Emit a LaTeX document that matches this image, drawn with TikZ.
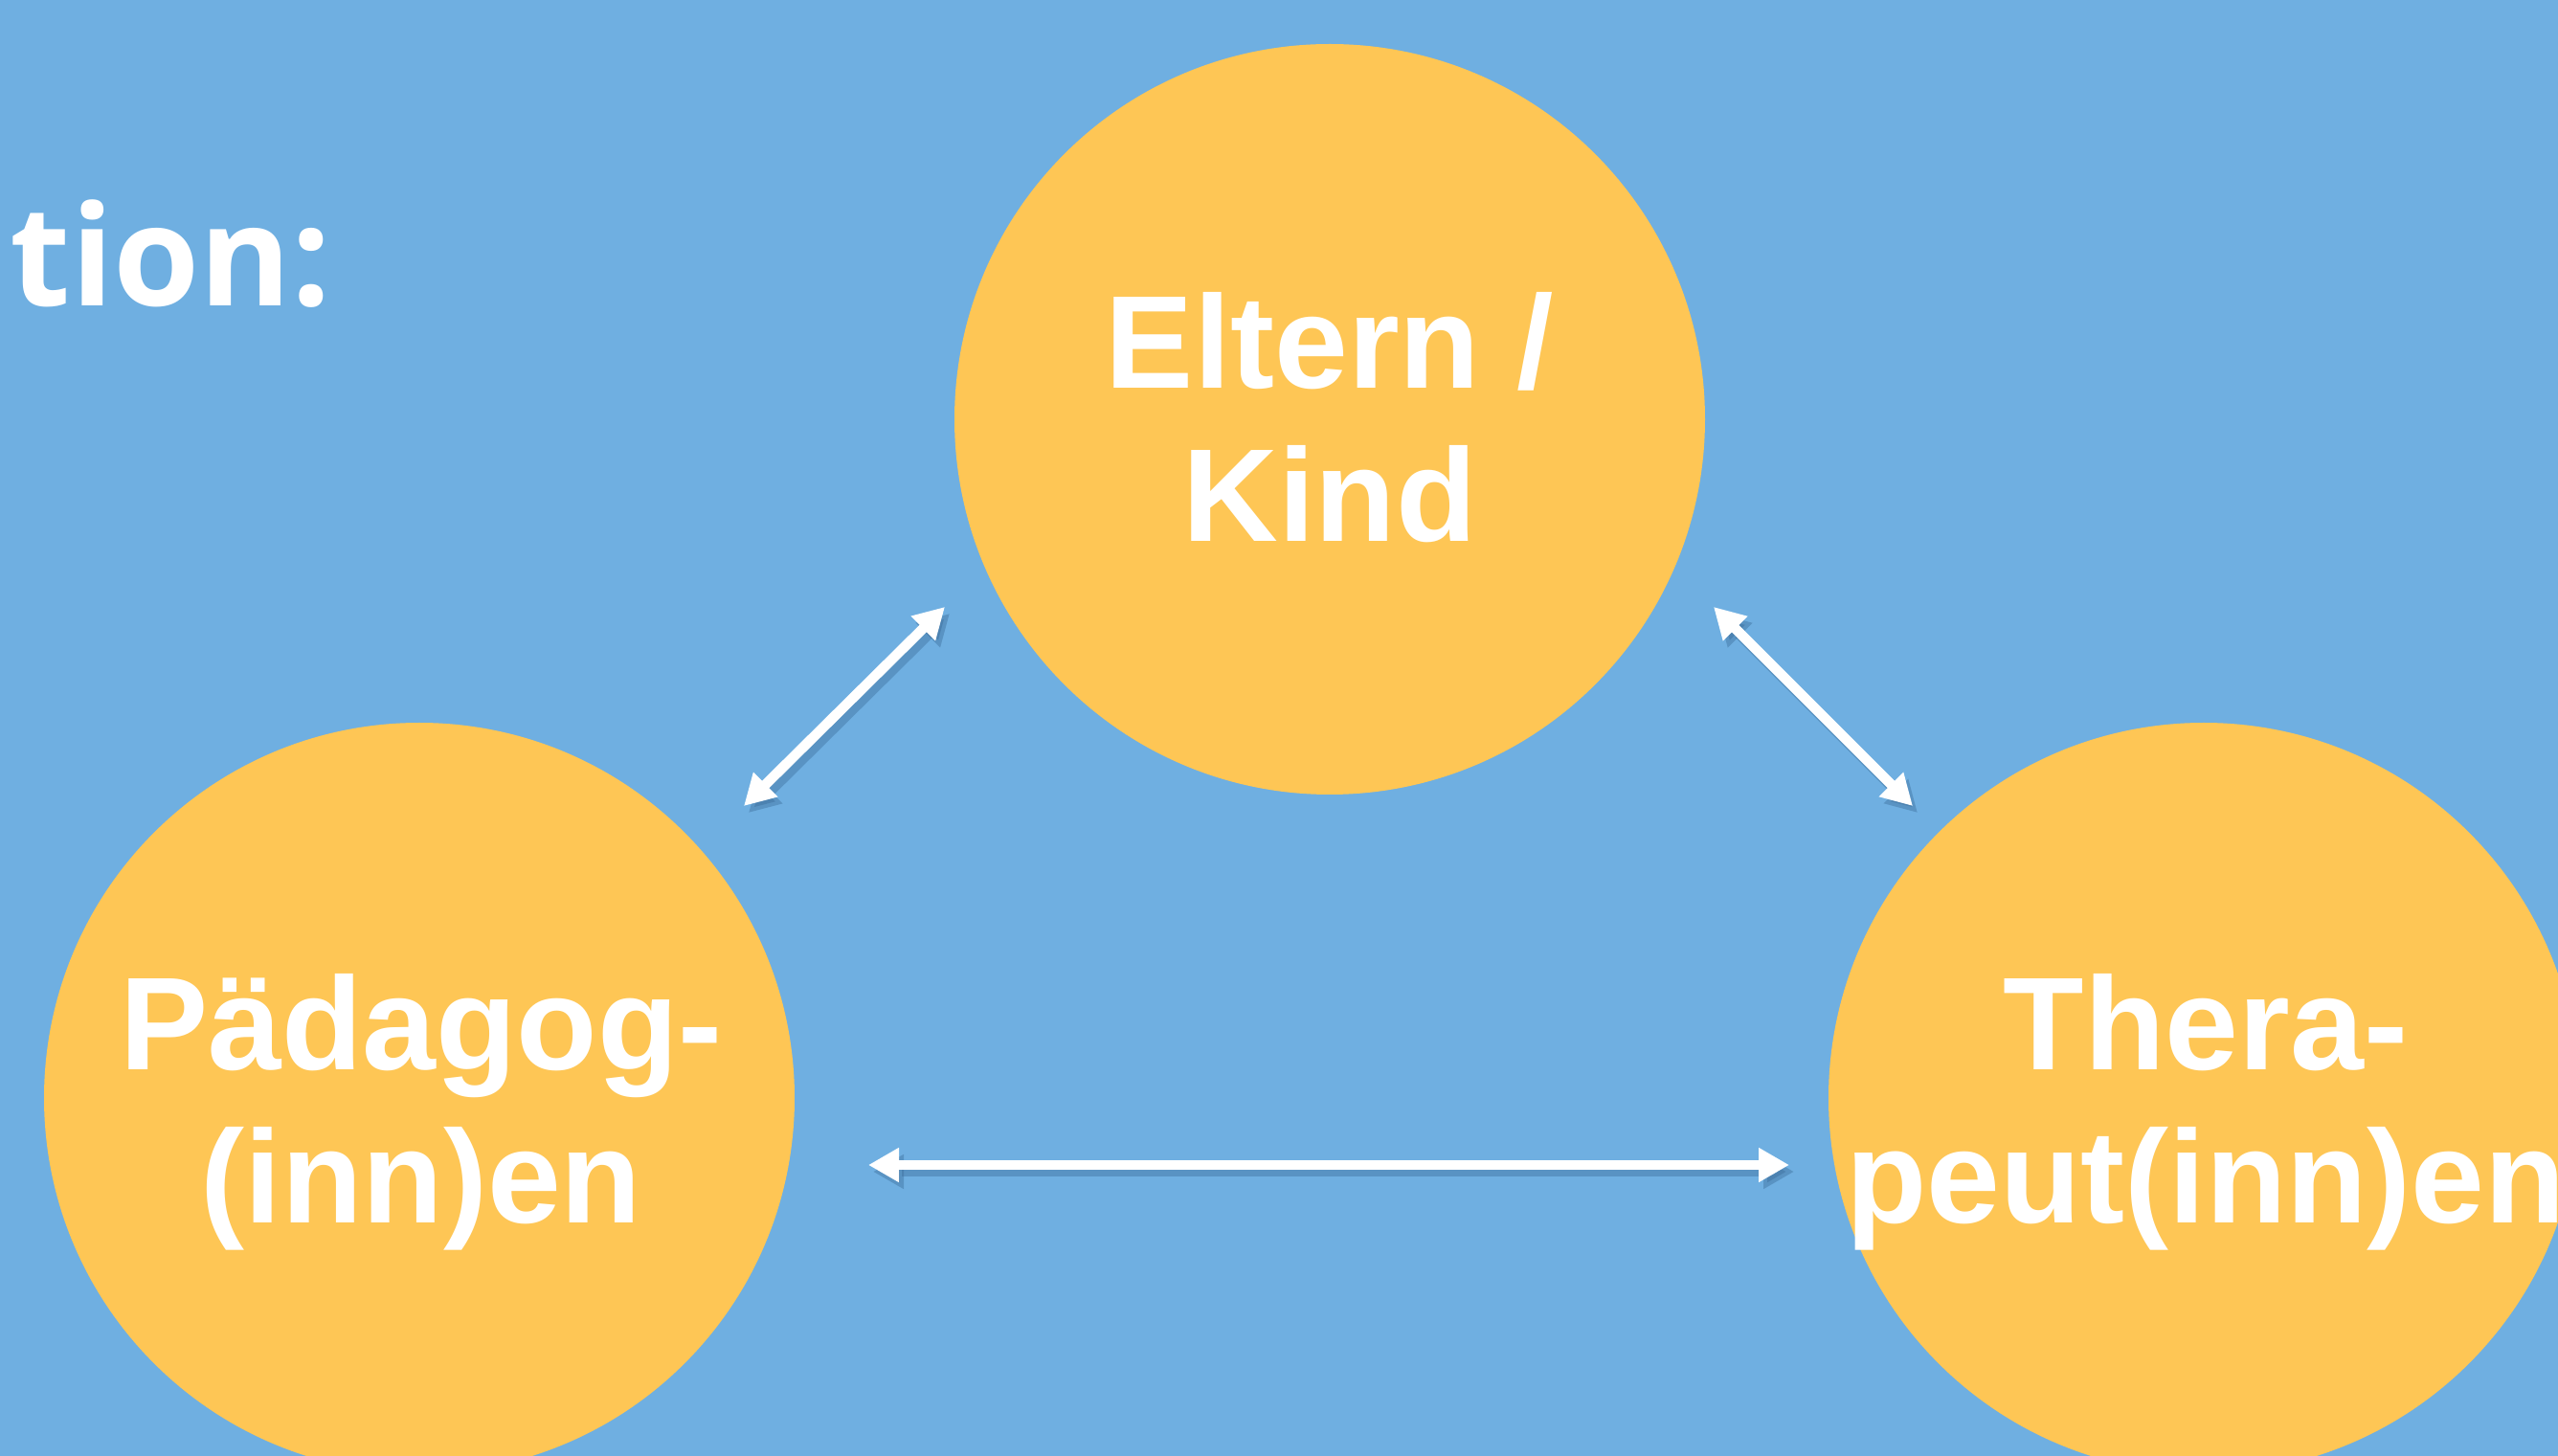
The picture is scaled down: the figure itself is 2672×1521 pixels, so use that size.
\documentclass[tikz,border=0pt]{standalone}
\usepackage{fontspec}
\setmainfont{Liberation Sans}
\newfontfamily\titlefont[Ligatures=NoCommon]{Open Sans}
\usetikzlibrary{arrows.meta}
\definecolor{bgblue}{HTML}{6FAFE1}
\definecolor{circy}{HTML}{FEC655}
\definecolor{shad}{HTML}{3A6A96}
\begin{document}
\begin{tikzpicture}[x=0.1mm,y=-0.1mm,
  circ/.style={circle, fill=circy, draw=none, minimum size=78.4mm, inner sep=0pt},
  lbl/.style={text=white, font=\bfseries\fontsize{39.3pt}{45.5pt}\selectfont, align=center, inner sep=0pt},
  rel/.style={draw=white, line width=1.05mm, {Triangle[length=3.2mm,width=3.4mm]}-{Triangle[length=3.2mm,width=3.4mm]}},
  relshadow/.style={rel, draw=shad, opacity=0.4, transform canvas={shift={(0.5mm,-0.7mm)}}}
]
\fill[bgblue] (0,0) rectangle (2672,1521);
\useasboundingbox (0,0) rectangle (2672,1521);

% partial title
\node[text=white, font=\titlefont\bfseries\fontsize{41.5pt}{50pt}\selectfont, anchor=base west, inner sep=0pt] (title) at (10,320) {tion:};

% circles
\node[circ] (top) at (1389,438) {};
\node[circ] (left) at (438,1147) {};
\node[circ] (right) at (2302,1147) {};

% labels
\node[lbl] (toptxt) at (1389,436) {Eltern /\\Kind};
\node[lbl] (lefttxt) at (440,1162) {Pädagog-\\(inn)en};
\node[lbl] (righttxt) at (2304,1162) {Thera-\\peut(inn)en};

% arrow end points
\coordinate (a1s) at (777,842);
\coordinate (a1e) at (987,634);
\coordinate (a2s) at (1790,634);
\coordinate (a2e) at (1998,842);
\coordinate (a3s) at (907,1217);
\coordinate (a3e) at (1869,1217);

% shadows
\draw[relshadow] (a1s) -- (a1e);
\draw[relshadow] (a2s) -- (a2e);
\draw[relshadow] (a3s) -- (a3e);
% arrows
\draw[rel] (a1s) -- (a1e);
\draw[rel] (a2s) -- (a2e);
\draw[rel] (a3s) -- (a3e);
\end{tikzpicture}
\end{document}
